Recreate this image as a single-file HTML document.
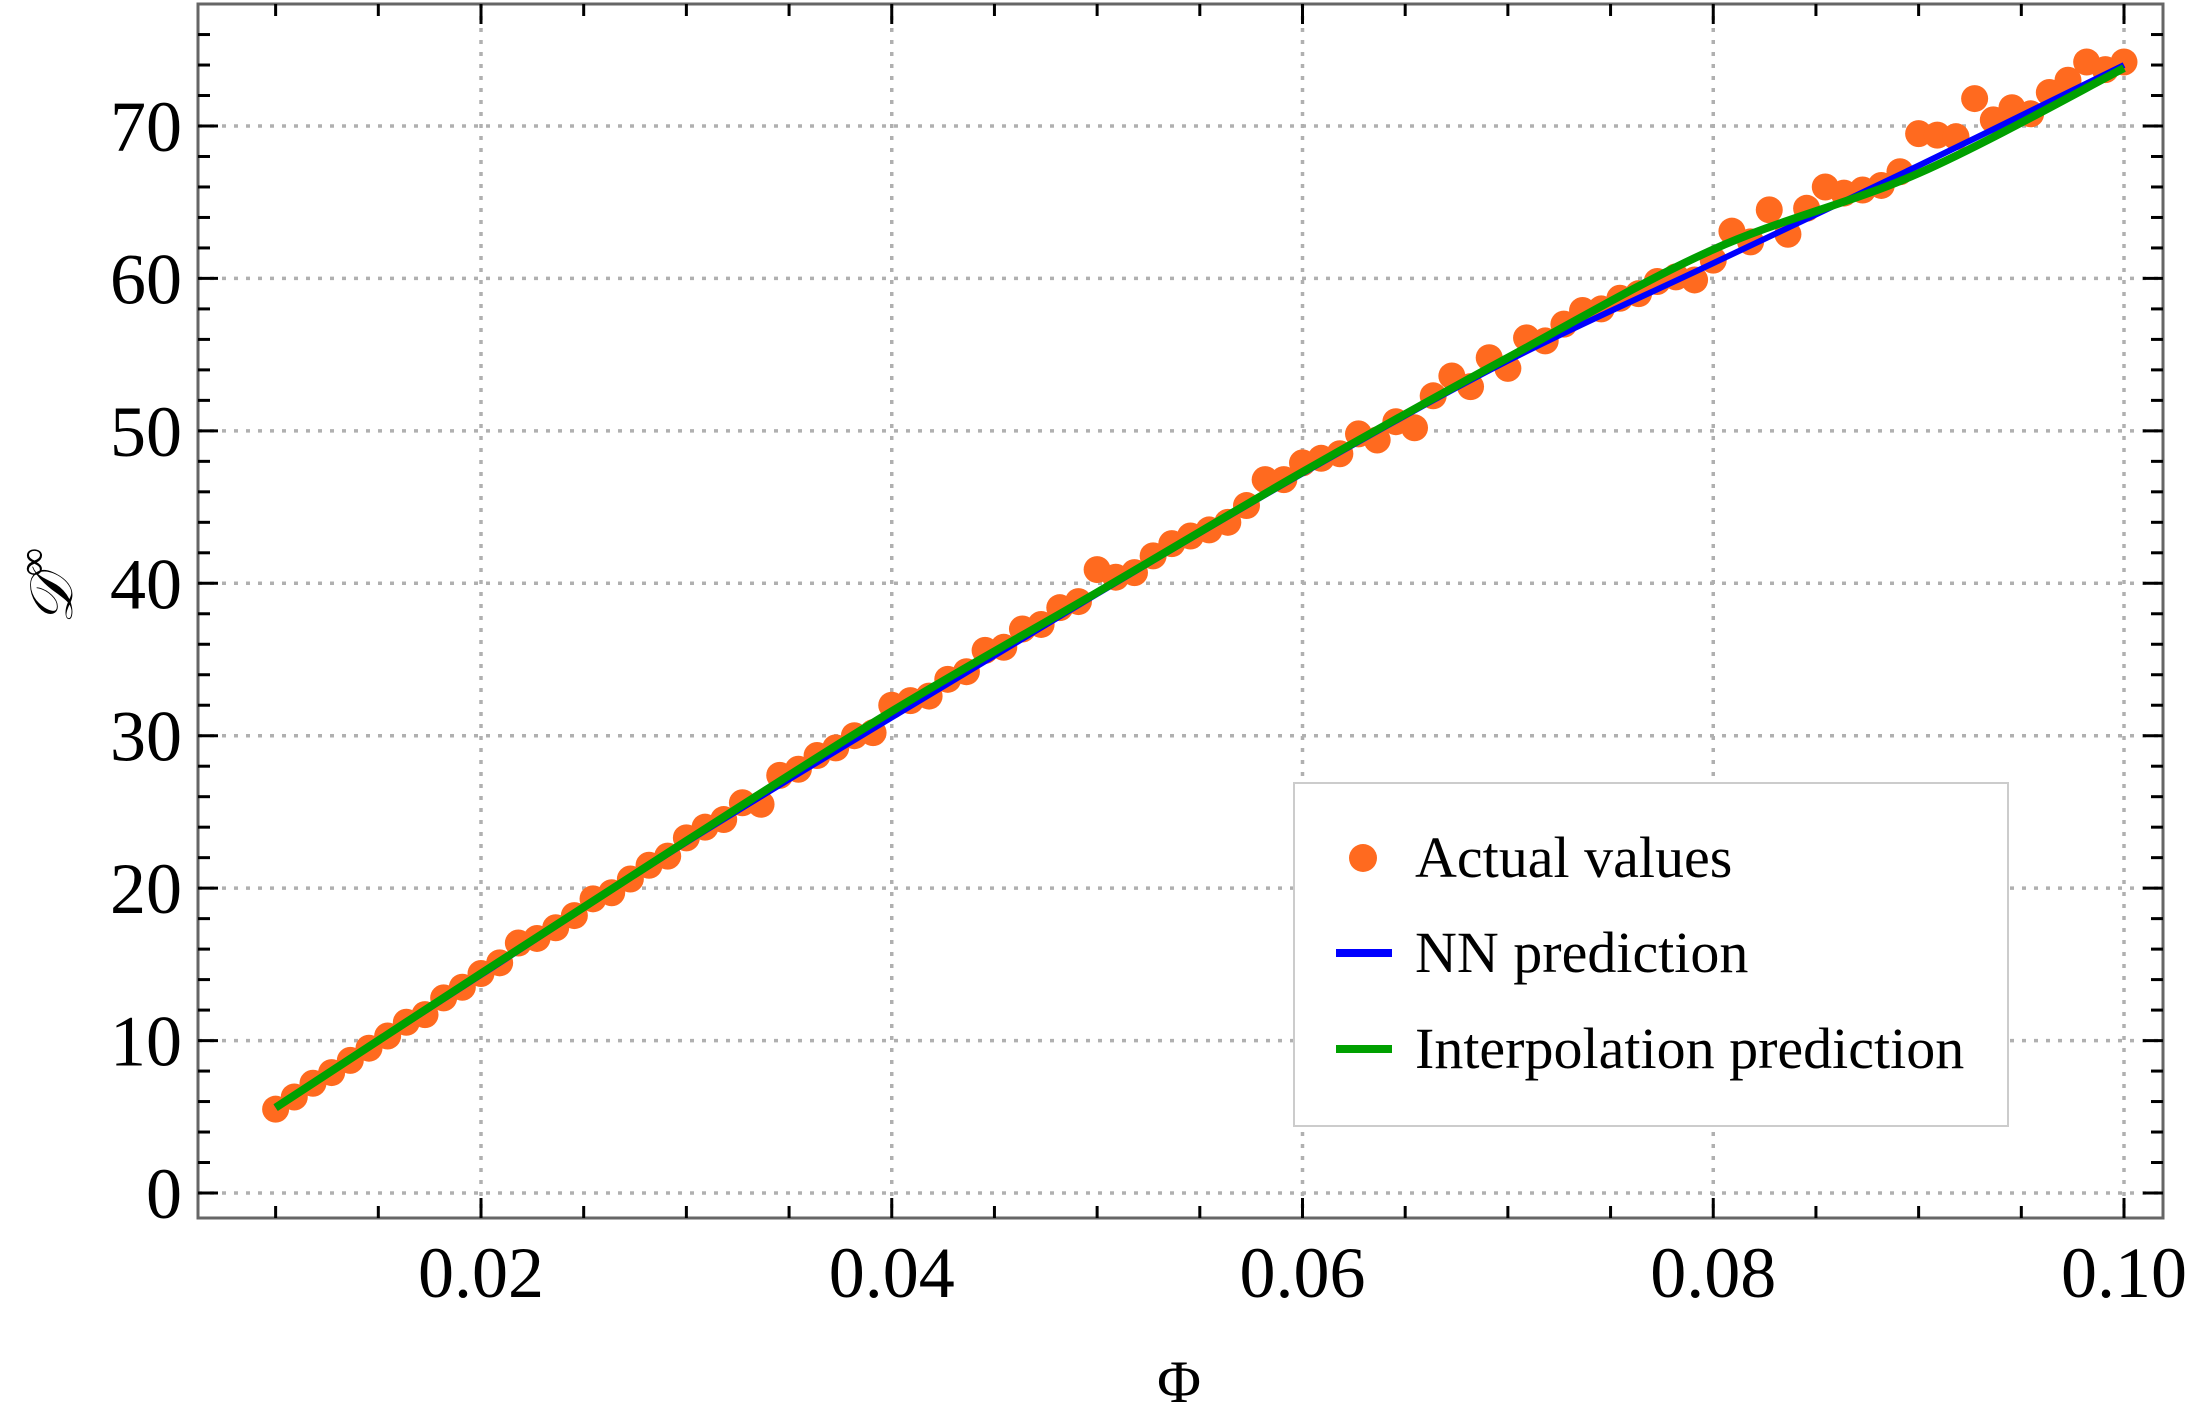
<!DOCTYPE html>
<html><head><meta charset="utf-8"><style>
html,body{margin:0;padding:0;background:#fff;}
svg{display:block;font-family:"Liberation Serif",serif;}
</style></head><body>
<svg id="chart" width="2188" height="1423" viewBox="0 0 2188 1423">
<g id="grid"></g>
<g id="series"></g>
<g id="axes"></g>
<text x="1179" y="1402" font-size="60" text-anchor="middle">Φ</text>
<text transform="translate(72,586) rotate(-90)" font-size="60" font-style="italic" text-anchor="middle">𝒟<tspan dy="-26" font-size="40" font-style="normal">∞</tspan></text>
<g>
<rect x="1294" y="783" width="714" height="343" fill="#fff" stroke="#ccc" stroke-width="2"/>
<circle cx="1363" cy="858" r="14" fill="#ff6a1f"/>
<text x="1415" y="877" font-size="58">Actual values</text>
<line x1="1336" y1="953" x2="1392" y2="953" stroke="#0000ff" stroke-width="8"/>
<text x="1415" y="972" font-size="58">NN prediction</text>
<line x1="1336" y1="1049" x2="1392" y2="1049" stroke="#00a000" stroke-width="8"/>
<text x="1415" y="1068" font-size="58">Interpolation prediction</text>
</g>
</svg>
<script>
const actualValues=[5.5,6.3,7.2,7.9,8.7,9.5,10.3,11.2,11.7,12.8,13.5,14.4,15.1,16.4,16.7,17.4,18.2,19.3,19.7,20.6,21.5,22.1,23.3,24.0,24.5,25.6,25.5,27.4,27.8,28.7,29.2,30.0,30.2,32.0,32.3,32.6,33.7,34.2,35.6,35.8,37.0,37.3,38.4,38.8,40.9,40.4,40.7,41.8,42.6,43.1,43.5,44.0,45.1,46.8,46.8,47.9,48.2,48.5,49.8,49.4,50.6,50.2,52.3,53.6,52.9,54.8,54.1,56.1,55.9,57.0,57.9,58.0,58.7,59.0,59.8,60.1,59.9,61.2,63.1,62.4,64.5,62.9,64.6,66.0,65.6,65.8,66.1,67.0,69.5,69.4,69.3,71.8,70.4,71.2,70.8,72.2,73.0,74.2,73.7,74.2];
const actualStart=0.01, actualEnd=0.10;
const curveX=[0.01,0.02,0.03,0.04,0.05,0.06,0.07,0.08,0.09,0.10];
const nnValues=[5.6,14.3,23.0,31.2,39.3,47.2,54.6,61.0,67.4,74.0];
const interpValues=[5.6,14.4,23.1,31.6,39.4,47.3,54.8,61.9,66.9,73.8];
const xTicks=[0.02,0.04,0.06,0.08,0.10];
const xTickLabels=["0.02","0.04","0.06","0.08","0.10"];
const yTicks=[0,10,20,30,40,50,60,70];
const yTickLabels=["0","10","20","30","40","50","60","70"];

const L=198,R=2163,T=4,B=1218;
const X=v=>481+(v-0.02)*(2124-481)/0.08;
const Y=v=>1193-v*(1193-126)/70;
const NS="http://www.w3.org/2000/svg";
function mk(tag,attrs,parent){const e=document.createElementNS(NS,tag);for(const k in attrs)e.setAttribute(k,attrs[k]);parent.appendChild(e);return e;}
const grid=document.getElementById('grid'),ser=document.getElementById('series'),axes=document.getElementById('axes');

xTicks.forEach(v=>{const l=mk('line',{x1:X(v),x2:X(v),y1:T,y2:B,stroke:'#b0b0b0','stroke-width':3.5,'stroke-dasharray':'4 8'},grid);

});
yTicks.forEach(v=>{const l=mk('line',{x1:L,x2:R,y1:Y(v),y2:Y(v),stroke:'#b0b0b0','stroke-width':3.5,'stroke-dasharray':'4 8'},grid);

});

const n=actualValues.length;
actualValues.forEach((v,i)=>{const x=actualStart+i*(actualEnd-actualStart)/(n-1);
const c=mk('circle',{cx:X(x),cy:Y(v),r:13.5,fill:'#ff6a1f'},ser);

});

function smoothPath(xs,ys){const p=xs.map((x,i)=>[X(x),Y(ys[i])]);let d=`M${p[0][0]},${p[0][1]}`;
for(let i=0;i<p.length-1;i++){const p0=p[i-1]||p[i],p1=p[i],p2=p[i+1],p3=p[i+2]||p[i+1];
const c1=[p1[0]+(p2[0]-p0[0])/6,p1[1]+(p2[1]-p0[1])/6],c2=[p2[0]-(p3[0]-p1[0])/6,p2[1]-(p3[1]-p1[1])/6];
d+=` C${c1[0]},${c1[1]} ${c2[0]},${c2[1]} ${p2[0]},${p2[1]}`;}return d;}
const nn=mk('path',{d:smoothPath(curveX,nnValues),fill:'none',stroke:'#0000ff','stroke-width':6},ser);


const ip=mk('path',{d:smoothPath(curveX,interpValues),fill:'none',stroke:'#00a000','stroke-width':8},ser);



const fr=mk('rect',{x:L,y:T,width:R-L,height:B-T,fill:'none',stroke:'#666','stroke-width':3},axes);


for(let k=0;k<=18;k++){const v=0.01+k*0.005;const major=Math.abs((v*100)%2)<1e-6||Math.abs((v*100)%2-2)<1e-6;const len=major?20:12;
[[B,B-len],[T,T+len]].forEach(([a,b])=>{const t=mk('line',{x1:X(v),x2:X(v),y1:a,y2:b,stroke:'#000','stroke-width':3},axes);

});}
for(let v=0;v<=76;v+=2){const major=v%10===0;const len=major?20:12;
[[L,L+len],[R,R-len]].forEach(([a,b])=>{const t=mk('line',{x1:a,x2:b,y1:Y(v),y2:Y(v),stroke:'#000','stroke-width':3},axes);

});}
xTicks.forEach((v,i)=>{const t=mk('text',{x:X(v),y:1297,'font-size':72,'text-anchor':'middle'},axes);t.textContent=xTickLabels[i];

});
yTicks.forEach((v,i)=>{const t=mk('text',{x:182,y:Y(v)+25,'font-size':72,'text-anchor':'end'},axes);t.textContent=yTickLabels[i];

});
</script>
</body></html>
